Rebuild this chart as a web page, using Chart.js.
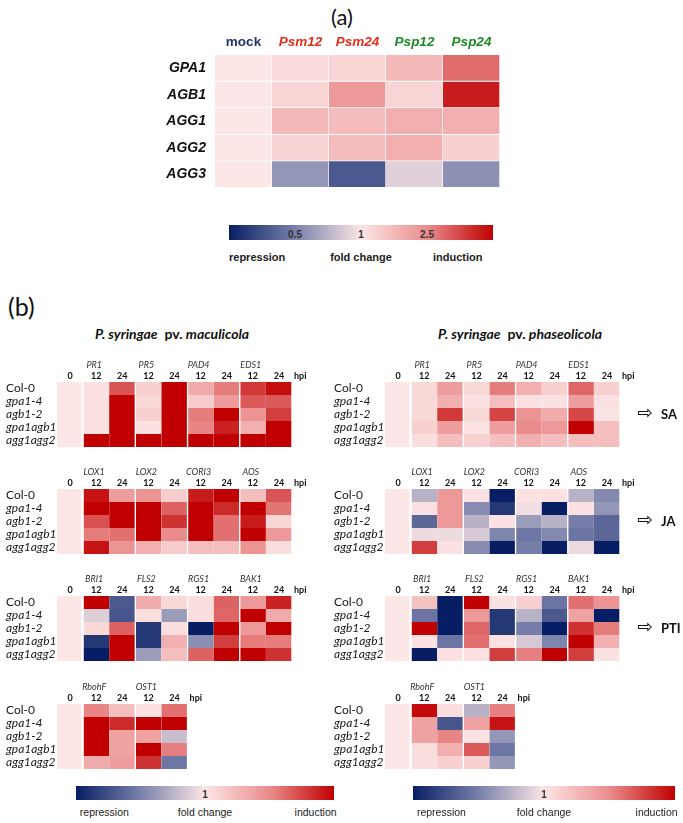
<!DOCTYPE html>
<html>
<head>
<meta charset="utf-8">
<script src="https://cdn.jsdelivr.net/npm/chart.js@4.4.1/dist/chart.umd.min.js"></script>
<style>
  body { margin: 0; background: #fff; }
  #page { position: relative; width: 683px; height: 823px; overflow: hidden; font-family: Lato, sans-serif; color: #111; }
  .abs { position: absolute; white-space: nowrap; }
  canvas { position: absolute; }
  .cb { position: absolute; }
  .title { font-size: 14px; font-weight: bold; }
  .title i { font-style: italic; }
</style>
</head>
<body>
<div id="page">
  <div class="abs" style="left:331px;top:3px;font-size:22px;">(a)</div>
  <canvas id="chartA" width="400" height="180" style="left:110px;top:25px"></canvas>
  <div id="barA" class="cb" style="left:229px;top:225px;width:264px;height:15px"></div>

  <div class="abs" style="left:8px;top:291px;font-size:25px;">(b)</div>
  <div class="abs title" style="left:95px;top:325px;"><i>P. syringae</i>&nbsp; pv. <i>maculicola</i></div>
  <div class="abs title" style="left:438px;top:325px;"><i>P. syringae</i>&nbsp; pv. <i>phaseolicola</i></div>

  <canvas id="macSA" width="330" height="95" style="left:0;top:356px"></canvas>
  <canvas id="macJA" width="330" height="95" style="left:0;top:463px"></canvas>
  <canvas id="macPTI" width="330" height="95" style="left:0;top:570px"></canvas>
  <canvas id="macROS" width="330" height="95" style="left:0;top:678px"></canvas>
  <canvas id="phaSA" width="355" height="95" style="left:328px;top:356px"></canvas>
  <canvas id="phaJA" width="355" height="95" style="left:328px;top:463px"></canvas>
  <canvas id="phaPTI" width="355" height="95" style="left:328px;top:570px"></canvas>
  <canvas id="phaROS" width="355" height="95" style="left:328px;top:678px"></canvas>

  <div id="barL" class="cb" style="left:76px;top:786px;width:258px;height:14px"></div>
  <div id="barR" class="cb" style="left:413px;top:786px;width:262px;height:14px"></div>
</div>
<script>
// panel (a): expression in wild type
const aConditions = ['mock', 'Psm12', 'Psm24', 'Psp12', 'Psp24'];
const aGenes = ['GPA1', 'AGB1', 'AGG1', 'AGG2', 'AGG3'];
const aFold = [
  [1, 1.12, 1.2, 1.6, 3.1],
  [1, 1.2, 2.2, 1.2, 5.2],
  [1, 1.6, 1.55, 1.75, 1.75],
  [1, 1.22, 1.55, 1.75, 1.25],
  [1, 0.58, 0.38, 0.86, 0.56]
];
const aTicks = [0.5, 1, 2.5];

// panel (b): marker genes in the mutant lines
const lines = ['Col-0', 'gpa1-4', 'agb1-2', 'gpa1agb1', 'agg1agg2'];
const hpi4 = ['0', '12', '24', '12', '24', '12', '24', '12', '24'];
const hpi2 = ['0', '12', '24', '12', '24'];
const saGenes = ['PR1', 'PR5', 'PAD4', 'EDS1'];
const jaGenes = ['LOX1', 'LOX2', 'CORI3', 'AOS'];
const ptiGenes = ['BRI1', 'FLS2', 'RGS1', 'BAK1'];
const rosGenes = ['RbohF', 'OST1'];

// P. syringae pv. maculicola
const macSA = [
  [1, 1.05, 3.6, 1.25, 7, 1.85, 2.75, 4.3, 5.7],
  [1, 1.05, 7, 1.15, 7, 1.3, 2.15, 3.5, 3.5],
  [1, 1.05, 7, 1.25, 7, 2.75, 7, 2.3, 4.2],
  [1, 1.05, 7, 1.05, 7, 2.6, 5, 1.75, 7],
  [1, 7, 7, 7, 7, 7, 7, 7, 7]
];
const macJA = [
  [1, 5.5, 2.1, 2.3, 1.3, 5.2, 7, 1.5, 3.6],
  [1, 7, 7, 7, 3.3, 7, 4.75, 7, 2.9],
  [1, 3.7, 7, 7, 4.5, 7, 3.0, 5.2, 1.18],
  [1, 2.75, 3.0, 7, 2.5, 7, 3.0, 7, 2.2],
  [1, 5.5, 2.3, 1.75, 1.3, 1.5, 1.5, 2.3, 1.1]
];
const macPTI = [
  [1, 7, 0.38, 1.8, 1.15, 1.1, 3.3, 2.2, 5],
  [1, 0.85, 0.37, 1.1, 0.6, 1.1, 3.2, 7, 1.85],
  [1, 1.15, 3.3, 0.3, 1.1, 0.22, 7, 2.2, 7],
  [1, 0.3, 7, 0.3, 1.75, 0.55, 4.2, 2.8, 2.8],
  [1, 0.22, 7, 0.6, 1.5, 3.3, 7, 7, 4.5]
];
const macROS = [
  [1, 2.6, 1.5, 1.05, 3.0],
  [1, 7, 4.75, 7, 7],
  [1, 7, 2.0, 2.0, 0.76],
  [1, 7, 2.0, 7, 2.7],
  [1, 1.8, 2.1, 4.5, 0.47]
];

// P. syringae pv. phaseolicola
const phaSA = [
  [1, 1.15, 2.1, 1.15, 2.75, 1.75, 1.25, 3.2, 1.25],
  [1, 1.15, 1.75, 1.05, 1.5, 1.05, 1.05, 2.1, 1.05],
  [1, 1.15, 4.3, 1.15, 4.0, 2.3, 1.8, 3.9, 1.03],
  [1, 1.25, 2.1, 1.03, 2.1, 2.5, 2.2, 7, 1.5],
  [1, 1.1, 1.5, 1.25, 1.5, 1.75, 1.5, 1.5, 1.5]
];
const phaJA = [
  [1, 0.7, 2.2, 1.05, 0.22, 1.05, 1.05, 0.7, 0.53],
  [1, 1.05, 2.2, 0.54, 0.3, 0.95, 0.25, 1.05, 0.58],
  [1, 0.42, 2.2, 0.7, 1.05, 0.6, 0.7, 0.49, 0.42],
  [1, 0.92, 0.92, 0.82, 0.52, 0.47, 0.53, 0.46, 0.42],
  [1, 4.2, 1.05, 0.54, 0.22, 0.49, 0.22, 0.92, 0.22]
];
const phaPTI = [
  [1, 1.45, 0.22, 7, 1.05, 1.25, 0.46, 3.0, 2.3],
  [1, 0.46, 0.22, 2.2, 0.3, 0.7, 0.38, 2.0, 0.25],
  [1, 7, 0.22, 3.2, 0.3, 0.49, 0.25, 4.5, 2.75],
  [1, 1.05, 0.46, 3.0, 1.05, 0.82, 0.52, 7, 1.75],
  [1, 0.22, 1.05, 1.05, 4.2, 2.7, 7, 4.2, 1.05]
];
const phaROS = [
  [1, 5.8, 1.1, 0.7, 2.7],
  [1, 2.0, 0.37, 2.0, 5.5],
  [1, 2.0, 2.6, 1.05, 0.58],
  [1, 1.1, 1.75, 3.5, 0.47],
  [1, 1.1, 1.25, 1.25, 0.58]
];

// colour scale: blue (repression) - pale - red (induction)
const stops = [
  [-1, [8, 30, 100]],
  [-0.5, [120, 128, 170]],
  [0, [252, 230, 230]],
  [0.5, [234, 140, 140]],
  [1, [192, 0, 0]]
];
function foldToT(v) {
  const t = v >= 1 ? Math.log(v) / Math.log(6.25) : Math.log(v) / Math.log(4);
  return Math.max(-1, Math.min(1, t));
}
function foldColor(v) {
  const t = foldToT(v);
  for (let i = 0; i < stops.length - 1; i++) {
    const [t0, c0] = stops[i], [t1, c1] = stops[i + 1];
    if (t <= t1) {
      const f = (t - t0) / (t1 - t0);
      const c = c0.map((x, k) => Math.round(x + (c1[k] - x) * f));
      return 'rgb(' + c.join(',') + ')';
    }
  }
  return 'rgb(192,0,0)';
}
const gradient = 'linear-gradient(to right,' +
  stops.map(s => 'rgb(' + s[1].join(',') + ') ' + (s[0] + 1) * 50 + '%').join(',') + ')';

function colorbar(id, ticks, font, capFont, capTop, capPos) {
  const bar = document.getElementById(id);
  bar.style.background = gradient;
  const page = document.getElementById('page');
  const L = bar.offsetLeft, W = bar.offsetWidth, T = bar.offsetTop, H = bar.offsetHeight;
  ticks.forEach(v => {
    const d = document.createElement('div');
    d.className = 'abs';
    d.textContent = v;
    d.style.cssText += ';font:' + font + ';color:#333;line-height:12px;transform:translateX(-50%)';
    d.style.left = (L + (foldToT(v) + 1) / 2 * W) + 'px';
    d.style.top = (T + H - 11) + 'px';
    page.appendChild(d);
  });
  [['repression', capPos[0], 'left'], ['fold change', capPos[1], 'center'], ['induction', capPos[2], 'right']]
    .forEach(([txt, f, al]) => {
      const d = document.createElement('div');
      d.className = 'abs';
      d.textContent = txt;
      d.style.cssText += ';font:' + capFont + ';color:#222;line-height:13px';
      d.style.left = (L + f * W) + 'px';
      d.style.top = capTop + 'px';
      if (al === 'center') d.style.transform = 'translateX(-50%)';
      if (al === 'right') d.style.transform = 'translateX(-100%)';
      page.appendChild(d);
    });
}

Chart.defaults.font.family = 'Lato';

const cellBase = {
  borderColor: '#fff',
  borderSkipped: false,
  barPercentage: 1,
  categoryPercentage: 1,
  grouped: false
};

// (a)
const headColors = ['#1f3370', '#e0301e', '#e0301e', '#1e8a28', '#1e8a28'];
new Chart(document.getElementById('chartA'), {
  type: 'bar',
  data: {
    labels: aConditions,
    datasets: aGenes.map((g, r) => Object.assign({
      label: g,
      data: aConditions.map(() => [r, r + 1]),
      backgroundColor: aFold[r].map(foldColor),
      borderWidth: { top: 0, left: 0, right: 1, bottom: 1 }
    }, cellBase))
  },
  options: {
    responsive: false, animation: false, events: [],
    layout: { padding: { left: 0, right: 10, top: 0, bottom: 8 } },
    plugins: { legend: { display: false }, tooltip: { enabled: false } },
    scales: {
      x: {
        position: 'top',
        grid: { display: false, drawTicks: false }, border: { display: false },
        ticks: {
          color: c => headColors[c.index],
          font: c => ({ family: 'Liberation Sans', size: 13.5, weight: 'bold', style: c.index ? 'italic' : 'normal' }),
          padding: 5, maxRotation: 0, autoSkip: false
        },
        afterFit: s => { s.height = 30; }
      },
      y: {
        min: 0, max: aGenes.length, reverse: true,
        grid: { display: false, drawTicks: false }, border: { display: false },
        afterBuildTicks: s => { s.ticks = aGenes.map((_, i) => ({ value: i + 0.5 })); },
        ticks: {
          callback: (v, i) => aGenes[i],
          font: { family: 'Liberation Sans', size: 14, weight: 'bold', style: 'italic' },
          color: '#111', padding: 9, autoSkip: false
        },
        afterFit: s => { s.width = 105; }
      }
    }
  }
});

// (b) labels drawn around each block
const blockLabels = {
  id: 'blockLabels',
  afterDraw(chart, args, o) {
    const { ctx, chartArea: a, scales: { x, y } } = chart;
    ctx.save();
    ctx.textBaseline = 'middle';
    ctx.textAlign = 'left';
    ctx.fillStyle = '#1a1a1a';
    lines.forEach((name, i) => {
      ctx.font = (i ? 'italic ' : '') + '12px Lato';
      ctx.fillText(name, a.left - 51, y.getPixelForValue(i + 0.5));
    });
    ctx.font = 'italic 9px Lato';
    ctx.fillStyle = '#333';
    ctx.textAlign = 'center';
    o.genes.forEach((g, k) => ctx.fillText(g, x.getPixelForValue(1 + 2 * k) - 2, a.top - 17));
    ctx.font = 'bold 9px Lato';
    ctx.fillStyle = '#111';
    ctx.textAlign = 'left';
    ctx.fillText('hpi', a.right + 2, a.top - 6.4);
    if (o.pathway) {
      const yy = y.getPixelForValue(2.5);
      ctx.font = '19px "DejaVu Sans"';
      ctx.fillText('\u21E8', a.right + 17, yy);
      ctx.font = 'bold 13px Lato';
      ctx.fillText(o.pathway, a.right + 41, yy);
    }
    ctx.restore();
  }
};

function block(id, genes, hpi, values, pathway) {
  const canvas = document.getElementById(id);
  new Chart(canvas, {
    type: 'bar',
    data: {
      labels: hpi,
      datasets: lines.map((name, r) => Object.assign({
        label: name,
        data: hpi.map(() => [r, r + 1]),
        backgroundColor: values[r].map(foldColor),
        borderWidth: c => ({
          top: 0, bottom: 0,
          left: c.dataIndex % 2 ? 1 : 0,
          right: c.dataIndex === 0 ? 2 : (c.dataIndex % 2 ? 0 : 1)
        })
      }, cellBase))
    },
    options: {
      responsive: false, animation: false, events: [],
      layout: { padding: { left: 57, right: canvas.width - 57 - 26.11 * hpi.length, top: 14, bottom: 4 } },
      plugins: {
        legend: { display: false }, tooltip: { enabled: false },
        blockLabels: { genes: genes, pathway: pathway }
      },
      scales: {
        x: {
          position: 'top',
          grid: { display: false, drawTicks: false }, border: { display: false },
          ticks: { font: { size: 9, weight: 'bold' }, color: '#111', padding: 1, maxRotation: 0, autoSkip: false },
          afterFit: s => { s.height = 12; }
        },
        y: { display: false, min: 0, max: lines.length, reverse: true }
      }
    },
    plugins: [blockLabels]
  });
}

block('macSA', saGenes, hpi4, macSA, null);
block('macJA', jaGenes, hpi4, macJA, null);
block('macPTI', ptiGenes, hpi4, macPTI, null);
block('macROS', rosGenes, hpi2, macROS, null);
block('phaSA', saGenes, hpi4, phaSA, 'SA');
block('phaJA', jaGenes, hpi4, phaJA, 'JA');
block('phaPTI', ptiGenes, hpi4, phaPTI, 'PTI');
block('phaROS', rosGenes, hpi2, phaROS, null);

colorbar('barA', aTicks, 'bold 10px "Liberation Sans"', 'bold 11px "Liberation Sans"', 251, [0, 0.5, 0.96]);
colorbar('barL', [1], 'bold 10px "Liberation Sans"', '10.5px "Liberation Sans"', 806, [0.015, 0.5, 1.01]);
colorbar('barR', [1], 'bold 10px "Liberation Sans"', '10.5px "Liberation Sans"', 806, [0.015, 0.5, 1.01]);
</script>
</body>
</html>
